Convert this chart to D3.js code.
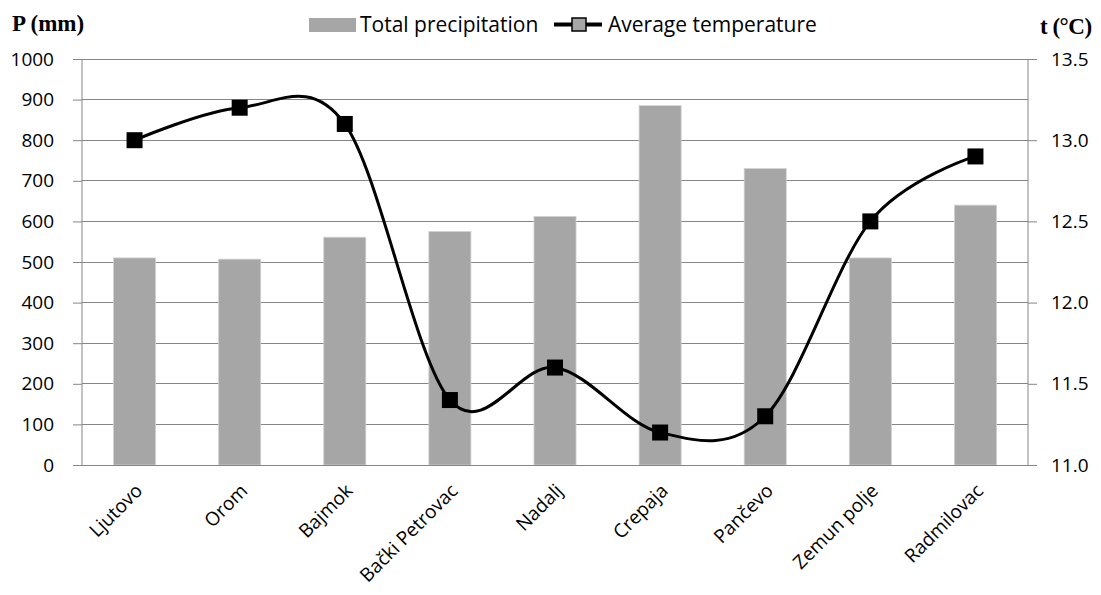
<!DOCTYPE html>
<html><head><meta charset="utf-8">
<script src="https://d3js.org/d3.v7.min.js"></script>
<style>body{margin:0;background:#fff}svg{display:block}</style>
</head><body>
<svg id="c" width="1101" height="595"></svg>
<script>
const categories = ["Ljutovo","Orom","Bajmok","Bački Petrovac","Nadalj","Crepaja","Pančevo","Zemun polje","Radmilovac"];
const precipitation = [510, 507, 561, 575, 612, 885, 730, 510, 640];
const temperature = [13.0, 13.2, 13.1, 11.4, 11.6, 11.2, 11.3, 12.5, 12.9];
const leftTicks = [0,100,200,300,400,500,600,700,800,900,1000];
const rightTicks = [11.0,11.5,12.0,12.5,13.0,13.5];

const svg = d3.select("#c");
const L = 82, R = 1028, T = 59, B = 465;
const font = "'Open Sans', sans-serif";
const x = d3.scaleBand().domain(categories).range([L, R]).paddingInner(0.6).paddingOuter(0.3);
const xc = d3.scaleBand().domain(categories).range([L, R]);
const y = d3.scaleLinear().domain([0, 1000]).range([B, T]);
const y2 = d3.scaleLinear().domain([11, 13.5]).range([B, T]);
const grid = "#868686";

// gridlines
svg.append("g").selectAll("line").data(leftTicks.slice(1)).join("line")
  .attr("x1", L).attr("x2", R).attr("y1", d => y(d)).attr("y2", d => y(d))
  .attr("stroke", grid).attr("stroke-width", 1).attr("shape-rendering","crispEdges");

// bars
svg.append("g").selectAll("rect").data(precipitation).join("rect")
  .attr("x", (d,i) => x(categories[i])).attr("width", x.bandwidth())
  .attr("y", d => y(d)).attr("height", d => B - y(d))
  .attr("fill", "#a6a6a6").attr("stroke","#d0d0d0").attr("stroke-width",0.8);

// left axis
const ga = svg.append("g").attr("transform", `translate(${L},0)`)
  .call(d3.axisLeft(y).tickValues(leftTicks).tickSize(9).tickPadding(19).tickFormat(d3.format("d")));
ga.select(".domain").attr("stroke", grid).attr("d", `M0,${T}V${B}`);
ga.selectAll(".tick line").attr("stroke", grid);
ga.selectAll("text").attr("font-family", font).attr("font-size", 19).attr("fill","#000");

// right axis
const gr = svg.append("g").attr("transform", `translate(${R},0)`)
  .call(d3.axisRight(y2).tickValues(rightTicks).tickSize(9).tickPadding(14).tickFormat(d3.format(".1f")));
gr.select(".domain").attr("stroke", grid).attr("d", `M0,${T}V${B}`);
gr.selectAll(".tick line").attr("stroke", grid);
gr.selectAll("text").attr("font-family", font).attr("font-size", 19).attr("fill","#000");

// bottom axis line
svg.append("line").attr("x1", L).attr("x2", R).attr("y1", B).attr("y2", B)
  .attr("stroke", grid).attr("shape-rendering","crispEdges");

// x labels
svg.append("g").selectAll("text").data(categories).join("text")
  .attr("transform", d => `translate(${xc(d)+xc.bandwidth()/2+9},${B+27}) rotate(-45)`)
  .attr("text-anchor","end").attr("font-family", font).attr("font-size", 19)
  .text(d => d);

// line
const line = d3.line().x((d,i) => xc(categories[i]) + xc.bandwidth()/2).y(d => y2(d))
  .curve(d3.curveCardinal.tension(0));
svg.append("path").datum(temperature).attr("d", line)
  .attr("fill","none").attr("stroke","#000").attr("stroke-width",3);
const ms = 16;
svg.append("g").selectAll("rect").data(temperature).join("rect")
  .attr("x", (d,i) => xc(categories[i]) + xc.bandwidth()/2 - ms/2)
  .attr("y", d => y2(d) - ms/2).attr("width", ms).attr("height", ms).attr("fill","#000");

// axis titles
svg.append("text").attr("x", 12).attr("y", 31).attr("font-family","'Liberation Serif', serif")
  .attr("font-weight","bold").attr("font-size", 23).text("P (mm)");
svg.append("text").attr("x", 1040).attr("y", 34).attr("font-family","'Liberation Serif', serif")
  .attr("font-weight","bold").attr("font-size", 23).attr("letter-spacing", -0.5).text("t (°C)");

// legend
const lg = svg.append("g");
lg.append("rect").attr("x", 309).attr("y", 18).attr("width", 47).attr("height", 14).attr("fill","#a6a6a6");
lg.append("text").attr("x", 360).attr("y", 32).attr("font-family", font).attr("font-size", 21).text("Total precipitation");
lg.append("line").attr("x1", 554).attr("x2", 602).attr("y1", 24.5).attr("y2", 24.5).attr("stroke","#000").attr("stroke-width",4);
lg.append("rect").attr("x", 572).attr("y", 18).attr("width", 14).attr("height", 13).attr("fill","#a6a6a6").attr("stroke","#000").attr("stroke-width",1.5);
lg.append("text").attr("x", 608).attr("y", 32).attr("font-family", font).attr("font-size", 21).text("Average temperature");
</script>
</body></html>
